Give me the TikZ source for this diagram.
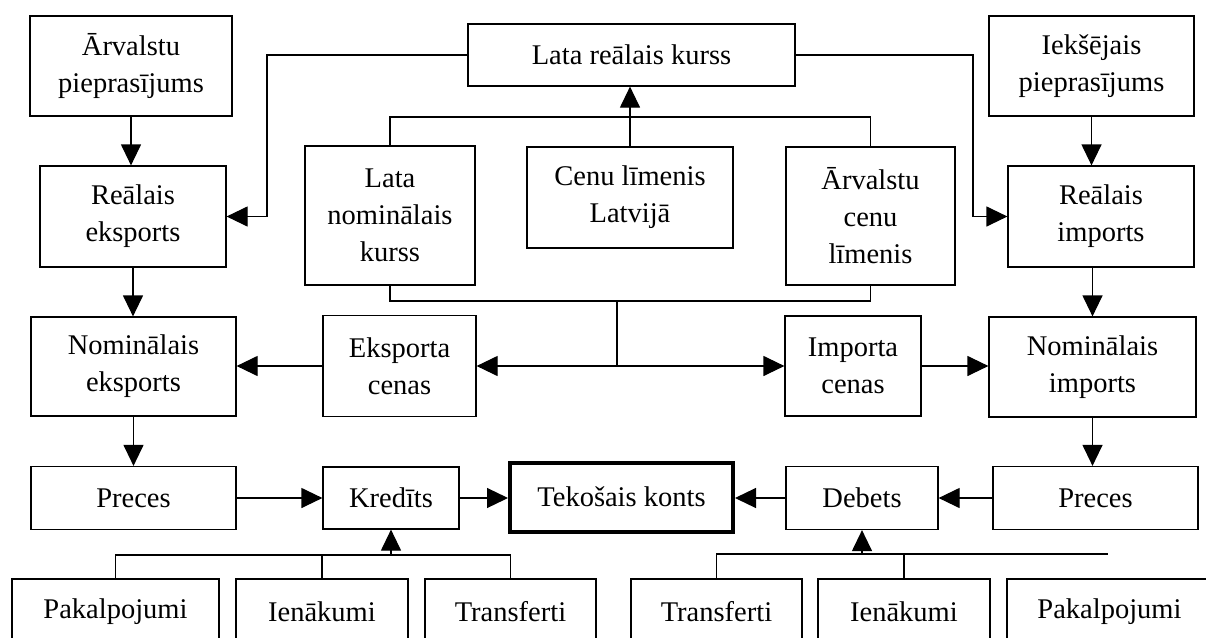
\documentclass[tikz,border=0pt]{standalone}
\usepackage{fontspec}
\setmainfont{Liberation Serif}
\usetikzlibrary{arrows.meta}
\tikzset{
  box/.style={draw, line width=1.2pt, rectangle, align=center, inner sep=0pt,
    font=\fontsize{28.5}{37}\selectfont},
  arr/.style={line width=1.2pt, -{Triangle[length=21pt,width=20pt]}},
  ln/.style={line width=1.2pt},
  mainbox/.style={box, line width=4pt}
}
\begin{document}
\begin{tikzpicture}[x=1pt,y=-1pt]
\clip (0,0) rectangle (1206,637);
\fill[white] (0,0) rectangle (1206,637);
% top row
\node[box, minimum width=202pt, minimum height=100pt] (ap) at (131,66) {Ārvalstu\\pieprasījums};
\node[box, minimum width=327pt, minimum height=62pt] (lrk) at (631.5,55) {Lata reālais kurss};
\node[box, minimum width=205pt, minimum height=100pt] (ip) at (1091.5,66) {Iekšējais\\pieprasījums};
% second row
\node[box, minimum width=186pt, minimum height=101pt] (re) at (133,216.5) {Reālais\\eksports};
\node[box, minimum width=170pt, minimum height=139pt] (lnk) at (390,215.5) {Lata\\nominālais\\kurss};
\node[box, minimum width=206pt, minimum height=101pt] (cll) at (630,197.5) {Cenu līmenis\\Latvijā};
\node[box, minimum width=169pt, minimum height=138pt] (acl) at (870.5,216) {Ārvalstu\\cenu\\līmenis};
\node[box, minimum width=186pt, minimum height=101pt] (ri) at (1101,216.5) {Reālais\\imports};
% third row
\node[box, minimum width=205pt, minimum height=99pt] (ne) at (133.5,366.5) {Nominālais\\eksports};
\node[box, minimum width=153pt, minimum height=101pt] (ec) at (399.5,366) {Eksporta\\cenas};
\node[box, minimum width=136pt, minimum height=100pt] (ic) at (853,366) {Importa\\cenas};
\node[box, minimum width=207pt, minimum height=100pt] (ni) at (1092.5,367) {Nominālais\\imports};
% fourth row
\node[box, minimum width=205pt, minimum height=63pt] (pl) at (133.5,498) {Preces};
\node[box, minimum width=136pt, minimum height=62pt] (kr) at (391,498) {Kredīts};
\node[mainbox, minimum width=223pt, minimum height=69pt] (tk) at (621.5,497) {Tekošais konts};
\node[box, minimum width=152pt, minimum height=63pt] (db) at (862,498) {Debets};
\node[box, minimum width=205pt, minimum height=63pt] (pr) at (1095.5,498) {Preces};
% bottom row
\node[box, minimum width=207pt, minimum height=66pt] (pk1) at (115.5,612) {Pakalpojumi};
\node[box, minimum width=172pt, minimum height=66pt] (ie1) at (322,612) {Ienākumi};
\node[box, minimum width=171pt, minimum height=66pt] (tr1) at (510.5,612) {Transferti};
\node[box, minimum width=171pt, minimum height=66pt] (tr2) at (716.5,612) {Transferti};
\node[box, minimum width=172pt, minimum height=66pt] (ie2) at (904,612) {Ienākumi};
\node[box, minimum width=205pt, minimum height=66pt] (pk2) at (1109.5,612) {Pakalpojumi};
% helper coordinates
\coordinate (lx) at (267,0);
\coordinate (rx) at (973,0);
\coordinate (tb) at (0,117);
\coordinate (bb) at (0,301);
\coordinate (jn) at (617,301);
\coordinate (kb) at (0,555);
\coordinate (db2) at (0,554);
\coordinate (rend) at (1108,554);
% connectors
\draw[arr] (ap.south) -- (ap.south |- re.north);
\draw[arr] (re.south) -- (re.south |- ne.north);
\draw[arr] (ne.south) -- (ne.south |- pl.north);
\draw[arr] (ip.south) -- (ip.south |- ri.north);
\draw[arr] (ni.north |- ri.south) -- (ni.north);
\draw[arr] (ni.south) -- (ni.south |- pr.north);
\draw[arr] (lrk.west) -- (lrk.west -| lx) -- (lx |- re.east) -- (re.east);
\draw[arr] (lrk.east) -- (lrk.east -| rx) -- (rx |- ri.west) -- (ri.west);
\draw[arr] (cll.north) -- (cll.north |- lrk.south);
\draw[ln] (lnk.north) -- (lnk.north |- tb) -| (acl.north);
\draw[ln] (lnk.south) -- (lnk.south |- bb) -| (acl.south);
\draw[arr] (jn) |- (ec.east);
\draw[arr] (jn) |- (ic.west);
\draw[arr] (ec.west) -- (ne.east |- ec.west);
\draw[arr] (ic.east) -- (ni.west |- ic.east);
\draw[arr] (pl.east) -- (kr.west |- pl.east);
\draw[arr] (kr.east) -- (tk.west |- kr.east);
\draw[arr] (db.west) -- (tk.east |- db.west);
\draw[arr] (pr.west) -- (db.east |- pr.west);
\draw[ln] (pk1.north) -- (pk1.north |- kb) -| (tr1.north);
\draw[ln] (ie1.north) -- (ie1.north |- kb);
\draw[arr] (kr.south |- kb) -- (kr.south);
\draw[ln] (tr2.north) -- (tr2.north |- db2) -- (rend);
\draw[ln] (ie2.north) -- (ie2.north |- db2);
\draw[arr] (db.south |- db2) -- (db.south);
\end{tikzpicture}
\end{document}
